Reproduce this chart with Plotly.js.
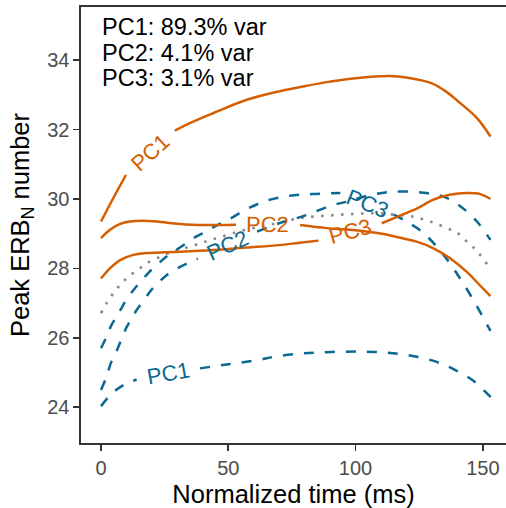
<!DOCTYPE html>
<html>
<head>
<meta charset="utf-8">
<script src="https://cdn.plot.ly/plotly-3.0.1.min.js"></script>
<style>html,body{margin:0;padding:0;background:#fff;}#chart{width:506px;height:508px;}</style>
</head>
<body>
<div id="chart"></div>
<script>
// ---- data ----
// orange solid curves (one per PC), null marks where the curve label sits
const orangePC1_x = [0, 5, 9.8, null, 29, 36, 44, 57, 70, 80, 90, 100, 113.5, 120, 130, 136, 140, 147.7, 153];
const orangePC1_y = [29.35, 30.05, 30.69, null, 31.97, 32.22, 32.47, 32.85, 33.1, 33.25, 33.38, 33.48, 33.54, 33.5, 33.33, 33.07, 32.83, 32.33, 31.8];
const orangePC2_x = [0, 3.5, 7.5, 11.4, 16, 22, 31, 41.5, 53, null, 78.2, 88.7, 97.8, 111, 117.5, 124, 130.6, 137, 143.7, 149, 153];
const orangePC2_y = [28.87, 29.11, 29.28, 29.35, 29.37, 29.35, 29.28, 29.25, 29.26, null, 29.25, 29.16, 29.11, 28.99, 28.88, 28.77, 28.58, 28.3, 27.9, 27.5, 27.2];
const orangePC3_x = [0, 3.5, 7.5, 12.7, 18, 31, 44, 57, 70, 78, 85.4, null, 110.3, 117.5, 124, 130.6, 137, 143.7, 149, 153];
const orangePC3_y = [27.71, 28.0, 28.24, 28.39, 28.44, 28.48, 28.53, 28.6, 28.67, 28.74, 28.8, null, 29.3, 29.52, 29.72, 29.98, 30.12, 30.17, 30.14, 30.0];
// blue dashed curves
const bluePC1_x = [0, 3, 6.2, 9.4, 14, null, 38.9, 50, 61.7, 68.4, 77.4, 85.7, 95, 103.7, 112.4, 120.6, 130, 138.1, 146, 152.3, 153.6];
const bluePC1_y = [24.03, 24.3, 24.51, 24.66, 24.8, null, 25.12, 25.24, 25.36, 25.46, 25.54, 25.58, 25.6, 25.6, 25.57, 25.5, 25.35, 25.11, 24.78, 24.35, 24.26];
const bluePC2_x = [0, 2, 4, 6, 8, 10, 12, 14, 17, 20, 23, 26, 30, 34, 38, null, 61.3, 70, 80, 90, 97, 105, 115, 126.6, 134.5, 141, 147.7, 153];
const bluePC2_y = [24.5, 24.85, 25.3, 25.6, 25.95, 26.3, 26.55, 26.8, 27.1, 27.4, 27.62, 27.82, 28.0, 28.15, 28.28, null, 29.06, 29.3, 29.52, 29.8, 29.93, 30.1, 30.21, 30.18, 30.07, 29.8, 29.35, 28.82];
const bluePC3_x = [0, 2, 4, 6, 8, 10, 13, 16, 19, 22, 25, 29, 33, 37, 41, 45, 50, 57, 65, 74, 83, 94, null, 115, 120, 125.7, 132, 137.5, 142.2, 147, 151.7, 153];
const bluePC3_y = [25.7, 26.0, 26.35, 26.6, 26.85, 27.1, 27.4, 27.65, 27.9, 28.1, 28.3, 28.5, 28.7, 28.9, 29.05, 29.22, 29.4, 29.7, 29.95, 30.09, 30.14, 30.17, null, 29.55, 29.35, 29.08, 28.62, 28.1, 27.58, 27.0, 26.37, 26.2];
// grey dotted mean curve
const mean_x = [0, 2.2, 4.8, 7.5, 10.7, 14.7, 18, 22, 26.5, 30.4, 35, 39, 43, 47.4, 55, 63.7, 70.3, 78.2, 85, 92.7, 100, 108, 115, 122.7, 127.3, 131.2, 135.8, 139.8, 143, 146.2, 149, 152, 153];
const mean_y = [26.71, 27.0, 27.28, 27.52, 27.76, 27.97, 28.15, 28.29, 28.44, 28.53, 28.63, 28.72, 28.82, 28.91, 29.08, 29.22, 29.32, 29.45, 29.5, 29.54, 29.57, 29.59, 29.55, 29.49, 29.4, 29.3, 29.16, 29.03, 28.82, 28.61, 28.38, 28.1, 28.05];

const curveLabels = ['PC1', 'PC2', 'PC3'];
const varianceText = ['PC1: 89.3% var', 'PC2: 4.1% var', 'PC3: 3.1% var'];
const xTicks = [0, 50, 100, 150];
const yTicks = [24, 26, 28, 30, 32, 34];

// ---- style ----
const W = 506, H = 508;
const margin = {l: 81, r: 0, t: 7, b: 65};
const xRange = [-7.86, 159.1];
const yRange = [22.97, 35.53];
const ORANGE = '#D55E00', BLUE = '#0B6890', GREY = '#8c8c8c';
const FONT = 'Liberation Sans, Arial, Helvetica, sans-serif';
const ROW_FIRST = 20, ROW_STEP = 25.5;   // pixel offsets of the variance text rows below the panel top

const pxX = (W - margin.l - margin.r) / (xRange[1] - xRange[0]);
const pxY = (H - margin.t - margin.b) / (yRange[1] - yRange[0]);

function labelFor(xs, ys, text, color) {
  const i = ys.indexOf(null);
  const x0 = xs[i - 1], y0 = ys[i - 1], x1 = xs[i + 1], y1 = ys[i + 1];
  const dx = (x1 - x0) * pxX, dy = -(y1 - y0) * pxY;
  const ang = Math.atan2(dy, dx) * 180 / Math.PI;
  return {
    x: (x0 + x1) / 2, y: (y0 + y1) / 2, xref: 'x', yref: 'y',
    text: text, showarrow: false, textangle: ang,
    xanchor: 'center', yanchor: 'middle',
    font: {family: FONT, size: 22, color: color}
  };
}

const curves = [
  {x: mean_x, y: mean_y, color: GREY, dash: '2.6px,7.4px', width: 2.7, label: null},
  {x: bluePC1_x, y: bluePC1_y, color: BLUE, dash: '10px,11px', width: 2.5, label: curveLabels[0]},
  {x: bluePC2_x, y: bluePC2_y, color: BLUE, dash: '10px,11px', width: 2.5, label: curveLabels[1]},
  {x: bluePC3_x, y: bluePC3_y, color: BLUE, dash: '10px,11px', width: 2.5, label: curveLabels[2]},
  {x: orangePC1_x, y: orangePC1_y, color: ORANGE, dash: 'solid', width: 2.5, label: curveLabels[0]},
  {x: orangePC2_x, y: orangePC2_y, color: ORANGE, dash: 'solid', width: 2.5, label: curveLabels[1]},
  {x: orangePC3_x, y: orangePC3_y, color: ORANGE, dash: 'solid', width: 2.5, label: curveLabels[2]}
];

const traces = curves.map(c => ({
  type: 'scatter', mode: 'lines', x: c.x, y: c.y, connectgaps: false,
  line: {color: c.color, dash: c.dash, width: c.width, shape: 'spline', smoothing: 1},
  hoverinfo: 'skip', showlegend: false
}));

const annotations = curves.filter(c => c.label).map(c => labelFor(c.x, c.y, c.label, c.color));
varianceText.forEach((t, k) => annotations.push({
  x: 0, y: 1, xref: 'x', yref: 'paper', xanchor: 'left', yanchor: 'middle',
  yshift: -(ROW_FIRST + k * ROW_STEP), xshift: -1,
  text: t, align: 'left', showarrow: false,
  font: {family: FONT, size: 23.5, color: '#000'}
}));

const axisCommon = {
  showline: true, linecolor: '#333333', linewidth: 1.6,
  ticks: 'outside', ticklen: 6, tickwidth: 1.6, tickcolor: '#333333',
  showgrid: false, zeroline: false,
  tickfont: {family: FONT, size: 20, color: '#4d4d4d'}
};

const layout = {
  width: W, height: H, margin: margin,
  paper_bgcolor: '#ffffff', plot_bgcolor: '#ffffff',
  font: {family: FONT},
  xaxis: Object.assign({}, axisCommon, {
    range: xRange, tickvals: xTicks, ticktext: xTicks.map(String), mirror: true,
    title: {text: 'Normalized time (ms)', font: {family: FONT, size: 25.5, color: '#000'}, standoff: 7}
  }),
  yaxis: Object.assign({}, axisCommon, {
    range: yRange, tickvals: yTicks, ticktext: yTicks.map(String),
    title: {text: 'Peak ERB<sub>N</sub> number', font: {family: FONT, size: 25.5, color: '#000'}, standoff: 10}
  }),
  annotations: annotations
};

Plotly.newPlot('chart', traces, layout, {displayModeBar: false, staticPlot: true});
</script>
</body>
</html>
